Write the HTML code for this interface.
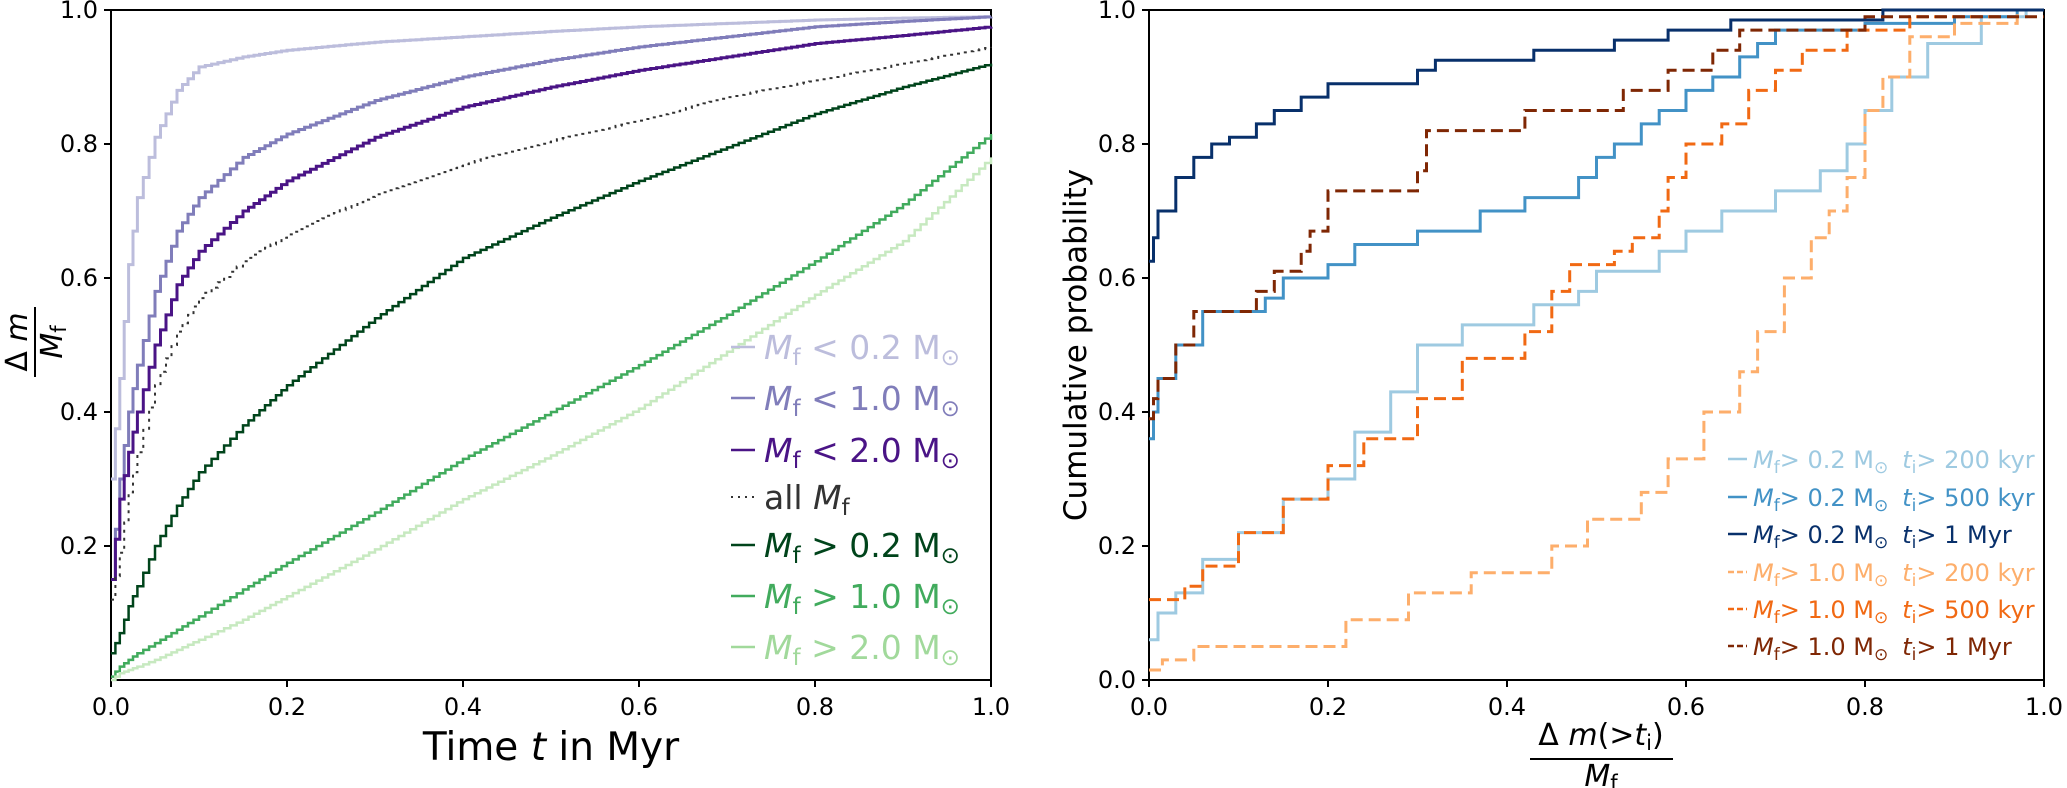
<!DOCTYPE html>
<html><head><meta charset="utf-8"><style>
html,body{margin:0;padding:0;background:#fff;}
svg{display:block;font-family:"DejaVu Sans","Liberation Sans",sans-serif;}
</style></head><body>
<svg id="c" width="2067" height="788" viewBox="0 0 2067 788" xmlns="http://www.w3.org/2000/svg"></svg>
<script>
// ---- Left panel data ----
const leftT = [0, 0.01, 0.02, 0.03, 0.05, 0.075, 0.1, 0.15, 0.2, 0.3, 0.4, 0.5, 0.6, 0.7, 0.8, 0.9, 1.0];
const lt02 = [0.30,0.45,0.62,0.72,0.81,0.88,0.915,0.93,0.94,0.952,0.96,0.968,0.975,0.98,0.985,0.988,0.99];
const lt10 = [0.15,0.30,0.40,0.47,0.58,0.67,0.72,0.78,0.815,0.865,0.90,0.925,0.945,0.96,0.975,0.983,0.99];
const lt20 = [0.15,0.27,0.34,0.40,0.50,0.59,0.64,0.70,0.745,0.81,0.855,0.885,0.91,0.93,0.95,0.962,0.975];
const allM = [0.12,0.19,0.28,0.34,0.44,0.52,0.57,0.625,0.665,0.725,0.77,0.805,0.835,0.87,0.895,0.92,0.945];
const gt02 = [0.04,0.07,0.11,0.14,0.20,0.26,0.31,0.38,0.44,0.54,0.63,0.69,0.745,0.795,0.845,0.885,0.92];
const gt10 = [0.005,0.02,0.03,0.04,0.055,0.075,0.095,0.135,0.175,0.25,0.33,0.40,0.47,0.545,0.625,0.71,0.815];
const gt20 = [0.0,0.01,0.015,0.02,0.03,0.045,0.06,0.09,0.125,0.195,0.27,0.335,0.405,0.49,0.575,0.655,0.78];
const ticks = [0.0, 0.2, 0.4, 0.6, 0.8, 1.0];
const tickLabels = ["0.0", "0.2", "0.4", "0.6", "0.8", "1.0"];

// ---- Right panel data (step x thresholds, cumulative y) ----
const nav1x = [0,0.005,0.01,0.03,0.05,0.07,0.09,0.12,0.14,0.17,0.2,0.3,0.32,0.43,0.52,0.58,0.65,0.82,1.0];
const nav1y = [0.625,0.66,0.70,0.75,0.78,0.80,0.81,0.83,0.85,0.87,0.89,0.91,0.925,0.94,0.955,0.97,0.985,1.0,1.0];
const blu5x = [0,0.005,0.01,0.03,0.06,0.13,0.15,0.2,0.23,0.3,0.37,0.42,0.48,0.5,0.52,0.55,0.57,0.6,0.63,0.66,0.68,0.7,0.8,0.9,0.97,1.0];
const blu5y = [0.36,0.40,0.45,0.50,0.55,0.57,0.60,0.62,0.65,0.67,0.70,0.72,0.75,0.78,0.80,0.83,0.85,0.88,0.90,0.93,0.95,0.97,0.98,0.99,1.0,1.0];
const blu2x = [0,0.01,0.03,0.06,0.1,0.15,0.2,0.23,0.27,0.3,0.35,0.43,0.48,0.5,0.57,0.6,0.64,0.7,0.75,0.78,0.8,0.83,0.87,0.93,0.98];
const blu2y = [0.06,0.10,0.13,0.18,0.22,0.27,0.30,0.37,0.43,0.50,0.53,0.56,0.58,0.61,0.64,0.67,0.70,0.73,0.76,0.80,0.85,0.90,0.95,0.99,1.0];
const brn1x = [0,0.005,0.01,0.03,0.05,0.12,0.14,0.17,0.18,0.2,0.3,0.31,0.42,0.53,0.58,0.63,0.66,0.8,1.0];
const brn1y = [0.39,0.42,0.45,0.50,0.55,0.58,0.61,0.64,0.67,0.73,0.76,0.82,0.85,0.88,0.91,0.94,0.97,0.99,0.99];
const org5x = [0,0.04,0.06,0.1,0.15,0.2,0.24,0.3,0.35,0.42,0.45,0.47,0.52,0.54,0.57,0.58,0.6,0.64,0.67,0.7,0.73,0.78,0.85,0.95];
const org5y = [0.12,0.14,0.17,0.22,0.27,0.32,0.36,0.42,0.48,0.52,0.58,0.62,0.64,0.66,0.70,0.75,0.80,0.83,0.88,0.91,0.94,0.97,0.99,1.0];
const org2x = [0,0.015,0.05,0.22,0.29,0.36,0.45,0.49,0.55,0.58,0.62,0.66,0.68,0.71,0.74,0.76,0.78,0.8,0.82,0.85,0.9,0.97];
const org2y = [0.015,0.03,0.05,0.09,0.13,0.16,0.20,0.24,0.28,0.33,0.40,0.46,0.52,0.60,0.66,0.70,0.75,0.85,0.90,0.96,0.98,1.0];

const NS = "http://www.w3.org/2000/svg";
const svg = document.getElementById('c');
function mk(tag, attrs, parent){ const e=document.createElementNS(NS,tag); for(const k in attrs) e.setAttribute(k,attrs[k]); (parent||svg).appendChild(e); return e; }

const L = {x0:111, x1:991, y0:680, y1:10};
const R = {x0:1149, x1:2044, y0:680, y1:10};
function sx(p,v){ return p.x0 + v*(p.x1-p.x0); }
function sy(p,v){ return p.y0 - v*(p.y0-p.y1); }

function axes(p, name, skipY0){
  const g = mk('g',{});
  
  
  mk('rect',{x:p.x0,y:p.y1,width:p.x1-p.x0,height:p.y0-p.y1,fill:'none',stroke:'#000','stroke-width':2},g);
  ticks.forEach((t,i)=>{
    const x=sx(p,t), y=sy(p,t);
    mk('line',{x1:x,y1:p.y0,x2:x,y2:p.y0+7,stroke:'#000','stroke-width':2},g);
    const tx=mk('text',{x:x,y:715,'font-size':24,'text-anchor':'middle'},g); tx.textContent=tickLabels[i];
    
    
    if(skipY0 && i===0) return;
    mk('line',{x1:p.x0-7,y1:y,x2:p.x0,y2:y,stroke:'#000','stroke-width':2},g);
    const ty=mk('text',{x:p.x0-13,y:y+8,'font-size':24,'text-anchor':'end'},g); ty.textContent=tickLabels[i];
    
    
  });
}

function curve(p, xs, ys){
  let pts=[];
  for(let i=0;i<xs.length-1;i++){
    const n = Math.max(2, Math.round((xs[i+1]-xs[i])*150));
    for(let k=0;k<n;k++){ const f=k/n; pts.push([xs[i]+f*(xs[i+1]-xs[i]), ys[i]+f*(ys[i+1]-ys[i])]); }
  }
  pts.push([xs[xs.length-1], ys[ys.length-1]]);
  let d='';
  pts.forEach((q,i)=>{ const x=sx(p,q[0]).toFixed(1), y=sy(p,q[1]).toFixed(1); d+= i===0?`M${x},${y}`:` H${x} V${y}`; });
  return d;
}
function stepPath(p, xs, ys){
  let d='';
  xs.forEach((v,i)=>{ const x=sx(p,v).toFixed(1), y=sy(p,ys[i]).toFixed(1); d+= i===0?`M${x},${y}`:` H${x} V${y}`; });
  return d;
}

axes(L,'left',true);
axes(R,'right',false);

const leftSeries = [
  {y:lt02,c:'#bcbddc',w:3,dash:null,n:'series-mf-lt-0-2'},
  {y:lt10,c:'#807dba',w:3,dash:null,n:'series-mf-lt-1-0'},
  {y:lt20,c:'#4a1486',w:3,dash:null,n:'series-mf-lt-2-0'},
  {y:allM,c:'#333',w:2,dash:'3,5',n:'series-all-mf'},
  {y:gt02,c:'#00441b',w:2.5,dash:null,n:'series-mf-gt-0-2'},
  {y:gt10,c:'#41ab5d',w:2.5,dash:null,n:'series-mf-gt-1-0'},
  {y:gt20,c:'#c7e9c0',w:2.5,dash:null,n:'series-mf-gt-2-0'}
];
leftSeries.forEach(s=>{
  const e=mk('path',{d:curve(L,leftT,s.y),fill:'none',stroke:s.c,'stroke-width':s.w});
  if(s.dash) e.setAttribute('stroke-dasharray',s.dash);
  
  
});

const rightSeries = [
  {x:blu2x,y:blu2y,c:'#9ecae1',dash:null,n:'cdf-0-2-200kyr'},
  {x:blu5x,y:blu5y,c:'#4292c6',dash:null,n:'cdf-0-2-500kyr'},
  {x:nav1x,y:nav1y,c:'#08306b',dash:null,n:'cdf-0-2-1myr'},
  {x:org2x,y:org2y,c:'#fdae6b',dash:'12,6',n:'cdf-1-0-200kyr'},
  {x:org5x,y:org5y,c:'#f16913',dash:'12,6',n:'cdf-1-0-500kyr'},
  {x:brn1x,y:brn1y,c:'#7f2704',dash:'12,6',n:'cdf-1-0-1myr'}
];
rightSeries.forEach(s=>{
  const e=mk('path',{d:stepPath(R,s.x,s.y),fill:'none',stroke:s.c,'stroke-width':3});
  if(s.dash) e.setAttribute('stroke-dasharray',s.dash);
  
  
});
</script>

<svg width="2067" height="788" style="position:absolute;left:0;top:0" xmlns="http://www.w3.org/2000/svg">
 <g font-family="DejaVu Sans, Liberation Sans, sans-serif">
  <g transform="translate(35,342) rotate(-90)">
    <text x="0" y="-8" font-size="30" text-anchor="middle">Δ <tspan font-style="italic">m</tspan></text>
    <line x1="-35" y1="0" x2="35" y2="0" stroke="#000" stroke-width="2"/>
    <text x="0" y="27" font-size="30" text-anchor="middle"><tspan font-style="italic">M</tspan><tspan font-size="21" dy="4">f</tspan></text>
  </g>
  <text x="551" y="760" font-size="39" text-anchor="middle">Time <tspan font-style="italic">t</tspan> in Myr</text>
  <text transform="translate(1086,345) rotate(-90)" font-size="31" text-anchor="middle">Cumulative probability</text>
  <g>
    <text x="1601" y="745" font-size="30" text-anchor="middle">Δ <tspan font-style="italic">m</tspan>(&gt;<tspan font-style="italic">t</tspan><tspan font-size="21" dy="5">i</tspan><tspan dy="-5">)</tspan></text>
    <line x1="1530" y1="759" x2="1673" y2="759" stroke="#000" stroke-width="2"/>
    <text x="1601" y="786" font-size="30" text-anchor="middle"><tspan font-style="italic">M</tspan><tspan font-size="21" dy="4">f</tspan></text>
  </g>
  <g font-size="33">
    <g fill="#bcbddc"><line x1="731" y1="347" x2="755" y2="347" stroke="#bcbddc" stroke-width="2.5"/><text x="764" y="359"><tspan font-style="italic">M</tspan><tspan font-size="23" dy="6">f</tspan><tspan dy="-6"> &lt; 0.2 M</tspan><tspan font-size="23" dy="6">⊙</tspan></text></g>
    <g fill="#807dba"><line x1="731" y1="398" x2="755" y2="398" stroke="#807dba" stroke-width="2.5"/><text x="764" y="410"><tspan font-style="italic">M</tspan><tspan font-size="23" dy="6">f</tspan><tspan dy="-6"> &lt; 1.0 M</tspan><tspan font-size="23" dy="6">⊙</tspan></text></g>
    <g fill="#4a1486"><line x1="731" y1="450" x2="755" y2="450" stroke="#4a1486" stroke-width="2.5"/><text x="764" y="462"><tspan font-style="italic">M</tspan><tspan font-size="23" dy="6">f</tspan><tspan dy="-6"> &lt; 2.0 M</tspan><tspan font-size="23" dy="6">⊙</tspan></text></g>
    <g fill="#333"><line x1="731" y1="497" x2="755" y2="497" stroke="#333" stroke-width="2" stroke-dasharray="2,5"/><text x="764" y="509">all <tspan font-style="italic">M</tspan><tspan font-size="23" dy="6">f</tspan></text></g>
    <g fill="#00441b"><line x1="731" y1="545" x2="755" y2="545" stroke="#00441b" stroke-width="2.5"/><text x="764" y="557"><tspan font-style="italic">M</tspan><tspan font-size="23" dy="6">f</tspan><tspan dy="-6"> &gt; 0.2 M</tspan><tspan font-size="23" dy="6">⊙</tspan></text></g>
    <g fill="#41ab5d"><line x1="731" y1="596" x2="755" y2="596" stroke="#41ab5d" stroke-width="2.5"/><text x="764" y="608"><tspan font-style="italic">M</tspan><tspan font-size="23" dy="6">f</tspan><tspan dy="-6"> &gt; 1.0 M</tspan><tspan font-size="23" dy="6">⊙</tspan></text></g>
    <g fill="#a1d99b"><line x1="731" y1="647" x2="755" y2="647" stroke="#a1d99b" stroke-width="2.5"/><text x="764" y="659"><tspan font-style="italic">M</tspan><tspan font-size="23" dy="6">f</tspan><tspan dy="-6"> &gt; 2.0 M</tspan><tspan font-size="23" dy="6">⊙</tspan></text></g>
  </g>
  <g font-size="24">
    <g fill="#9ecae1"><line x1="1728" y1="459" x2="1747" y2="459" stroke="#9ecae1" stroke-width="2.5"/><text x="1753" y="468"><tspan font-style="italic">M</tspan><tspan font-size="17" dy="5">f</tspan><tspan dy="-5">&gt; 0.2 M</tspan><tspan font-size="17" dy="5">⊙</tspan><tspan dy="-5" dx="14" font-style="italic">t</tspan><tspan font-size="17" dy="5">i</tspan><tspan dy="-5">&gt; 200 kyr</tspan></text></g>
    <g fill="#4292c6"><line x1="1728" y1="497" x2="1747" y2="497" stroke="#4292c6" stroke-width="2.5"/><text x="1753" y="506"><tspan font-style="italic">M</tspan><tspan font-size="17" dy="5">f</tspan><tspan dy="-5">&gt; 0.2 M</tspan><tspan font-size="17" dy="5">⊙</tspan><tspan dy="-5" dx="14" font-style="italic">t</tspan><tspan font-size="17" dy="5">i</tspan><tspan dy="-5">&gt; 500 kyr</tspan></text></g>
    <g fill="#08306b"><line x1="1728" y1="534" x2="1747" y2="534" stroke="#08306b" stroke-width="2.5"/><text x="1753" y="543"><tspan font-style="italic">M</tspan><tspan font-size="17" dy="5">f</tspan><tspan dy="-5">&gt; 0.2 M</tspan><tspan font-size="17" dy="5">⊙</tspan><tspan dy="-5" dx="14" font-style="italic">t</tspan><tspan font-size="17" dy="5">i</tspan><tspan dy="-5">&gt; 1 Myr</tspan></text></g>
    <g fill="#fdae6b"><line x1="1728" y1="572" x2="1747" y2="572" stroke="#fdae6b" stroke-width="2.5" stroke-dasharray="6,3"/><text x="1753" y="581"><tspan font-style="italic">M</tspan><tspan font-size="17" dy="5">f</tspan><tspan dy="-5">&gt; 1.0 M</tspan><tspan font-size="17" dy="5">⊙</tspan><tspan dy="-5" dx="14" font-style="italic">t</tspan><tspan font-size="17" dy="5">i</tspan><tspan dy="-5">&gt; 200 kyr</tspan></text></g>
    <g fill="#f16913"><line x1="1728" y1="609" x2="1747" y2="609" stroke="#f16913" stroke-width="2.5" stroke-dasharray="6,3"/><text x="1753" y="618"><tspan font-style="italic">M</tspan><tspan font-size="17" dy="5">f</tspan><tspan dy="-5">&gt; 1.0 M</tspan><tspan font-size="17" dy="5">⊙</tspan><tspan dy="-5" dx="14" font-style="italic">t</tspan><tspan font-size="17" dy="5">i</tspan><tspan dy="-5">&gt; 500 kyr</tspan></text></g>
    <g fill="#7f2704"><line x1="1728" y1="646" x2="1747" y2="646" stroke="#7f2704" stroke-width="2.5" stroke-dasharray="6,3"/><text x="1753" y="655"><tspan font-style="italic">M</tspan><tspan font-size="17" dy="5">f</tspan><tspan dy="-5">&gt; 1.0 M</tspan><tspan font-size="17" dy="5">⊙</tspan><tspan dy="-5" dx="14" font-style="italic">t</tspan><tspan font-size="17" dy="5">i</tspan><tspan dy="-5">&gt; 1 Myr</tspan></text></g>
  </g>
 </g>
</svg>
</body></html>
